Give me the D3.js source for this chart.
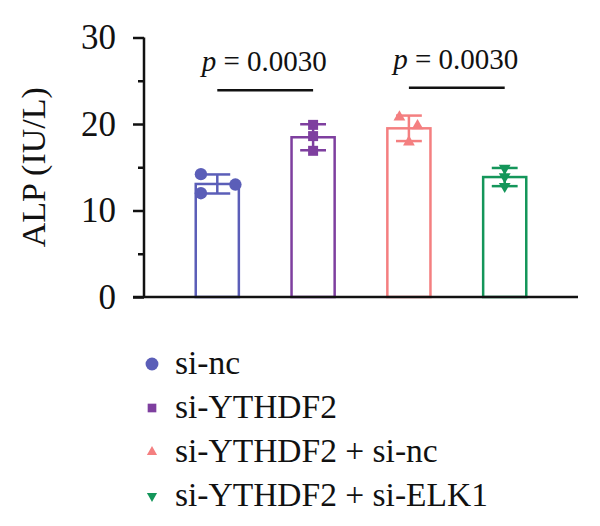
<!DOCTYPE html>
<html>
<head>
<meta charset="utf-8">
<script src="https://cdn.jsdelivr.net/npm/d3@7"></script>
<style>
  html, body { margin: 0; padding: 0; background: #fff; }
  svg { display: block; font-family: "Liberation Serif", "Times New Roman", serif; }
</style>
</head>
<body>
<svg id="chart" width="600" height="526"></svg>
<script>
// ---- data ----
const categories = ["si-nc", "si-YTHDF2", "si-YTHDF2 + si-nc", "si-YTHDF2 + si-ELK1"];
const colors = ["#5B5EB8", "#7E3F9F", "#F47F80", "#14965A"];
const shapes = ["circle", "square", "triangle", "triangleDown"];
const replicateValues = [
  [14.2, 13.0, 12.0],
  [19.9, 18.6, 16.9],
  [20.8, 19.8, 17.9],
  [14.9, 13.9, 12.8]
];
const replicateJitter = [
  [-0.38, 0.42, -0.38],
  [0, 0, 0],
  [-0.22, 0.2, 0],
  [0, 0, 0]
];
const yTicks = [0, 10, 20, 30];
const yMinorTicks = [5, 15, 25];
const comparisons = [
  { a: 0, b: 1, label: "0.0030", level: 23.9 },
  { a: 2, b: 3, label: "0.0030", level: 24.2 }
];
const yLabel = "ALP (IU/L)";

// ---- stats ----
const means = replicateValues.map(v => d3.mean(v));
const sds = replicateValues.map(v => d3.deviation(v));

// ---- scales ----
const svg = d3.select("#chart");
const x = d3.scaleBand().domain(categories).range([144, 578]).paddingInner(0.55).paddingOuter(0.54);
const y = d3.scaleLinear().domain([0, 30]).range([297, 37.5]);
const bw = x.bandwidth();

function symbolFor(shape, size) {
  const t = {circle: d3.symbolCircle, square: d3.symbolSquare, triangle: d3.symbolTriangle, triangleDown: d3.symbolTriangle}[shape];
  return d3.symbol().type(t).size(size)();
}

// ---- bars ----
const g = svg.append("g");
g.selectAll("rect.bar").data(categories).join("rect")
  .attr("class", "bar")
  .attr("x", d => x(d))
  .attr("width", bw)
  .attr("y", (d, i) => y(means[i]))
  .attr("height", (d, i) => y(0) - y(means[i]))
  .attr("fill", "none")
  .attr("stroke", (d, i) => colors[i])
  .attr("stroke-width", 2.5);

// ---- points ----
categories.forEach((c, i) => {
  const cx = x(c) + bw / 2;
  replicateValues[i].forEach((v, j) => {
    const px = cx + replicateJitter[i][j] * bw;
    const size = shapes[i] === "circle" ? 120 : (shapes[i] === "square" ? 100 : 60);
    g.append("path")
      .attr("d", symbolFor(shapes[i], size))
      .attr("transform", `translate(${px},${y(v)})` + (shapes[i] === "triangleDown" ? " rotate(180)" : ""))
      .attr("fill", colors[i]);
  });
});

// ---- error bars ----
const capW = bw * 0.6;
categories.forEach((c, i) => {
  const cx = x(c) + bw / 2;
  const hi = y(means[i] + sds[i]), lo = y(means[i] - sds[i]);
  const eg = g.append("g").attr("stroke", colors[i]).attr("stroke-width", 2.5);
  eg.append("line").attr("x1", cx).attr("x2", cx).attr("y1", hi).attr("y2", lo);
  eg.append("line").attr("x1", cx - capW / 2).attr("x2", cx + capW / 2).attr("y1", hi).attr("y2", hi);
  eg.append("line").attr("x1", cx - capW / 2).attr("x2", cx + capW / 2).attr("y1", lo).attr("y2", lo);
});

// ---- axes ----
const yAxis = d3.axisLeft(y).tickValues(yTicks).tickSize(11).tickPadding(17).tickFormat(d3.format("d"));
const ya = svg.append("g").attr("transform", "translate(144,0)").call(yAxis);
ya.select(".domain").attr("stroke", "#111").attr("stroke-width", 2.5).attr("d", `M0,${y(30)}V${y(0)}`);
ya.selectAll(".tick line").attr("stroke", "#111").attr("stroke-width", 2.5);
ya.selectAll(".tick text").attr("font-size", 35).attr("fill", "#111").attr("font-family", "Liberation Serif");
const yMinor = d3.axisLeft(y).tickValues(yMinorTicks).tickSize(6).tickFormat("");
const ym = svg.append("g").attr("transform", "translate(144,0)").call(yMinor);
ym.select(".domain").remove();
ym.selectAll(".tick line").attr("stroke", "#111").attr("stroke-width", 2.5);

svg.append("line")
  .attr("x1", 133).attr("x2", 578)
  .attr("y1", y(0)).attr("y2", y(0))
  .attr("stroke", "#111").attr("stroke-width", 2.5);

svg.append("text")
  .attr("transform", `translate(45,${(y(0) + y(30)) / 2}) rotate(-90)`)
  .attr("text-anchor", "middle")
  .attr("font-size", 34)
  .attr("fill", "#111")
  .text(yLabel);

// ---- significance ----
comparisons.forEach(cmp => {
  const x1 = x(categories[cmp.a]) + bw / 2;
  const x2 = x(categories[cmp.b]) + bw / 2;
  const ly = y(cmp.level);
  svg.append("line").attr("x1", x1).attr("x2", x2).attr("y1", ly).attr("y2", ly)
    .attr("stroke", "#111").attr("stroke-width", 2.5);
  const t = svg.append("text")
    .attr("x", (x1 + x2) / 2 - 1).attr("y", ly - 19)
    .attr("text-anchor", "middle")
    .attr("font-size", 29)
    .attr("fill", "#111");
  t.append("tspan").attr("font-style", "italic").text("p");
  t.append("tspan").text(" = " + cmp.label);
});

// ---- legend ----
const legend = svg.append("g").attr("transform", "translate(152,364)");
categories.forEach((c, i) => {
  const row = legend.append("g").attr("transform", `translate(0,${i * 44})`);
  const size = shapes[i] === "circle" ? 130 : (shapes[i] === "square" ? 75 : 45);
  row.append("path")
    .attr("d", symbolFor(shapes[i], size))
    .attr("transform", shapes[i] === "triangleDown" ? "rotate(180)" : null)
    .attr("fill", colors[i]);
  row.append("text")
    .attr("x", 23).attr("y", 10)
    .attr("font-size", 33.5)
    .attr("fill", "#111")
    .text(c);
});
</script>
</body>
</html>
